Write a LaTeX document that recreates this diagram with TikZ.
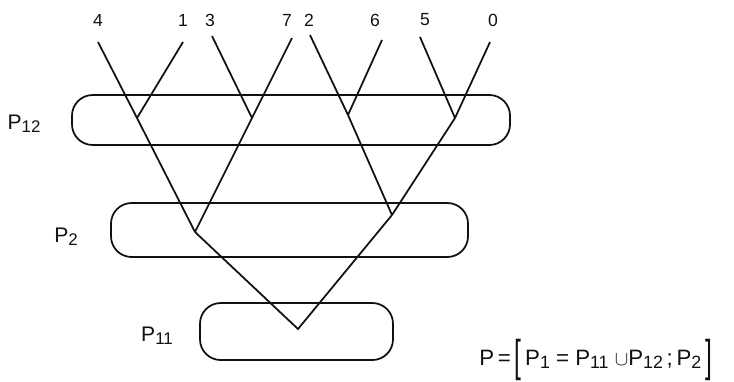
\documentclass[tikz,border=0pt]{standalone}
\usepackage{fontspec}
\setmainfont{Liberation Sans}
\usetikzlibrary{positioning}
\definecolor{inkMain}{HTML}{111111}
\newcommand{\lsub}[1]{\raisebox{-0.3ex}{\scalebox{0.8}{#1}}}
\newcommand{\tallbrack}[1]{\raisebox{-0.55ex}{\scalebox{1.1}[2.0]{#1}}}
\tikzset{
  setbox/.style={
    draw=inkMain, rectangle, rounded corners=0.62cm,
    line width=1.5pt, inner sep=0pt,
  },
  leaflabel/.style={
    font=\fontsize{15}{17}\selectfont, text=inkMain, inner sep=1pt,
  },
  setlabel/.style={
    font=\fontsize{18}{21}\selectfont, text=inkMain, inner sep=1pt,
  },
  treeline/.style={
    draw=inkMain, line width=1.5pt, line join=miter,
  },
}

\begin{document}
\begin{tikzpicture}[x=0.03cm, y=-0.03cm]
  \useasboundingbox (0,0) rectangle (734,381);

  % === Set boxes ===
  \node[setbox, minimum width=13.14cm, minimum height=1.5cm] (p12) at (291,120) {};
  \node[setbox, minimum width=10.71cm, minimum height=1.62cm] (p2) at (289.5,230) {};
  \node[setbox, minimum width=5.79cm, minimum height=1.71cm] (p11) at (296.5,331.5) {};

  \node[setlabel] (p12Lab) at (24,124) {P\lsub{12}};
  \node[setlabel] (p2Lab) at (66,237) {P\lsub{2}};
  \node[setlabel] (p11Lab) at (157,336) {P\lsub{11}};

  % === Leaves (top row) ===
  \node[leaflabel] (l4) at (98,20) {4};
  \node[leaflabel] (l1) at (183,20) {1};
  \node[leaflabel] (l3) at (210,20) {3};
  \node[leaflabel] (l7) at (287,20) {7};
  \node[leaflabel] (l2) at (309,20) {2};
  \node[leaflabel] (l6) at (375,20) {6};
  \node[leaflabel] (l5) at (425,20) {5};
  \node[leaflabel] (l0) at (493,20) {0};

  % === Line ends and junctions ===
  \coordinate (t4) at (98,42);
  \coordinate (t1) at (183,42);
  \coordinate (t3) at (212,36);
  \coordinate (t7) at (292,38);
  \coordinate (t2) at (310,35);
  \coordinate (t6) at (382,40);
  \coordinate (t5) at (420,37);
  \coordinate (t0) at (490,42);

  \coordinate (j41) at (137,118);
  \coordinate (j37) at (252,118);
  \coordinate (j26) at (348,115);
  \coordinate (j50) at (455,118);
  \coordinate (jL) at (195,232);
  \coordinate (jR) at (392,215);
  \coordinate (root) at (298,329);

  % === Tree ===
  \draw[treeline] (t4) -- (j41) -- (jL);
  \draw[treeline] (t1) -- (j41);
  \draw[treeline] (t3) -- (j37);
  \draw[treeline] (t7) -- (j37) -- (jL);
  \draw[treeline] (t2) -- (j26) -- (jR);
  \draw[treeline] (t6) -- (j26);
  \draw[treeline] (t5) -- (j50);
  \draw[treeline] (t0) -- (j50) -- (jR);
  \draw[treeline] (jL) -- (root) -- (jR);

  % === Partition ===
  \node[setlabel, anchor=west, font=\fontsize{19}{22}\selectfont] (formula) at (478,360)
    {P\,=\,\tallbrack{[}\,P\lsub{1} = P\lsub{11} $\cup$P\lsub{12}\,;\,P\lsub{2}\,\tallbrack{]}};

\end{tikzpicture}
\end{document}
